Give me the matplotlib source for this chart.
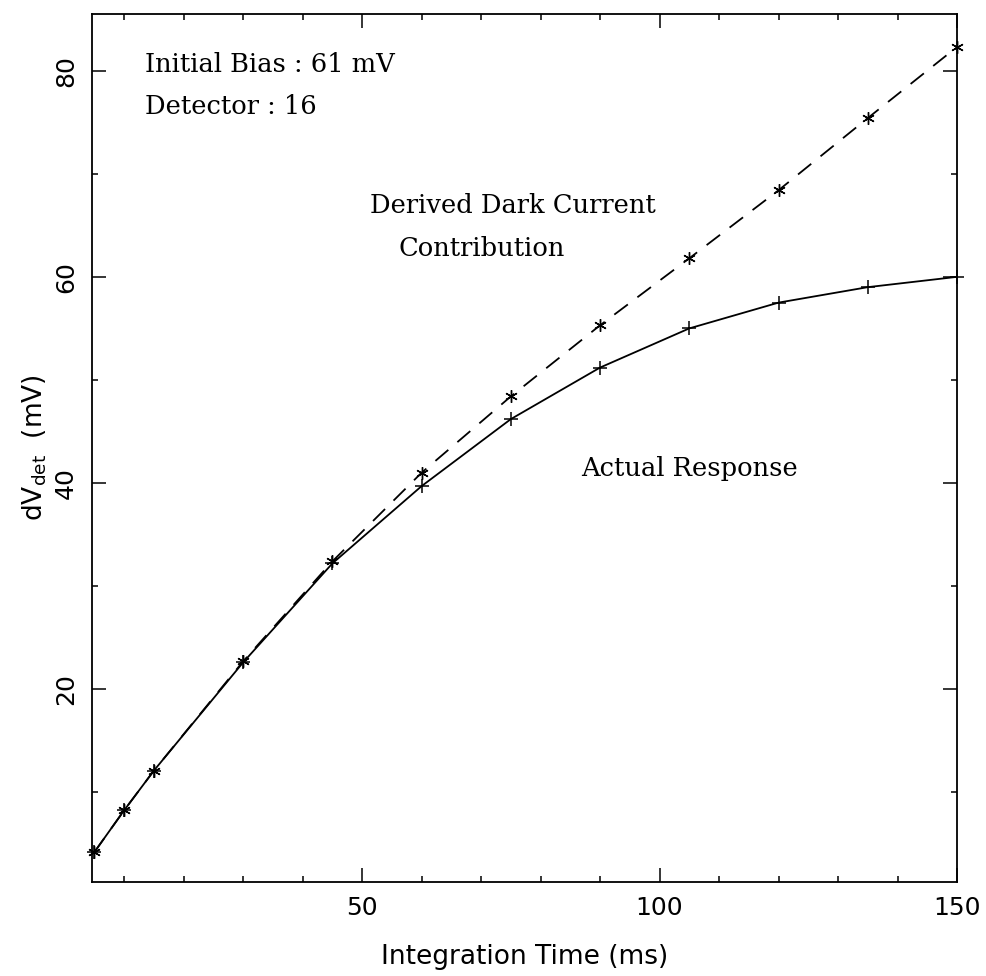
import matplotlib
matplotlib.use("Agg")
import matplotlib.pyplot as plt
from matplotlib.ticker import MultipleLocator

# Integration times (ms)
integration_time = [5, 10, 15, 30, 45, 60, 75, 90, 105, 120, 135, 150]
# Measured detector voltage change (mV)
actual_response = [4.2, 8.25, 12.1, 22.6, 32.2, 39.7, 46.2, 51.2, 55.0, 57.5, 59.0, 60.0]
# Dark-current contribution derived from the early slope (mV)
dark_current = [4.2, 8.25, 12.1, 22.7, 32.4, 41.0, 48.4, 55.3, 61.8, 68.4, 75.4, 82.3]

x_ticks = [50, 100, 150]
y_ticks = [20, 40, 60, 80]

plt.rcParams["font.family"] = ["DejaVu Sans"]
plt.rcParams["mathtext.default"] = "regular"

fig = plt.figure(figsize=(9.86, 9.76), dpi=100)
ax = fig.add_axes([0.0933, 0.0963, 0.8773, 0.8894])

lw = 1.3
ax.plot(integration_time, actual_response, color="black", lw=lw,
        marker="+", ms=10, mew=1.1, clip_on=False, zorder=3)
ax.plot(integration_time, dark_current, color="black", lw=lw,
        ls=(0, (12.2 / lw, 8.6 / lw)),
        marker=(6, 2, 0), ms=9, mew=1.0, clip_on=False, zorder=3)

ax.set_xlim(4.6, 150)
ax.set_ylim(1.3, 85.5)
ax.set_xticks(x_ticks)
ax.set_yticks(y_ticks)
ax.xaxis.set_minor_locator(MultipleLocator(10))
ax.yaxis.set_minor_locator(MultipleLocator(10))

ax.tick_params(which="both", direction="in", top=True, right=True,
               width=1.1, color="black", labelsize=18)
ax.tick_params(which="major", length=10, pad=10)
ax.tick_params(which="minor", length=4.3)
ax.tick_params(axis="y", labelrotation=90)
for lab in ax.get_yticklabels():
    lab.set_va("center")

for sp in ax.spines.values():
    sp.set_linewidth(1.3)

ax.set_xlabel("Integration Time (ms)", fontsize=19, labelpad=17)
ax.set_ylabel(r"dV$_{det}$  (mV)", fontsize=19)
ax.yaxis.set_label_coords(-0.05, 0.5)

serif = dict(family="DejaVu Serif", fontsize=18.5, transform=ax.transAxes,
             va="baseline", ha="left")
ax.text(0.0613, 0.933, "Initial Bias : 61 mV", **serif)
ax.text(0.0613, 0.885, "Detector : 16", **serif)
ax.text(0.321, 0.771, "Derived Dark Current", **serif)
ax.text(0.354, 0.721, "Contribution", **serif)
ax.text(0.565, 0.468, "Actual Response", **serif)

fig.savefig("out.png", dpi=100)
